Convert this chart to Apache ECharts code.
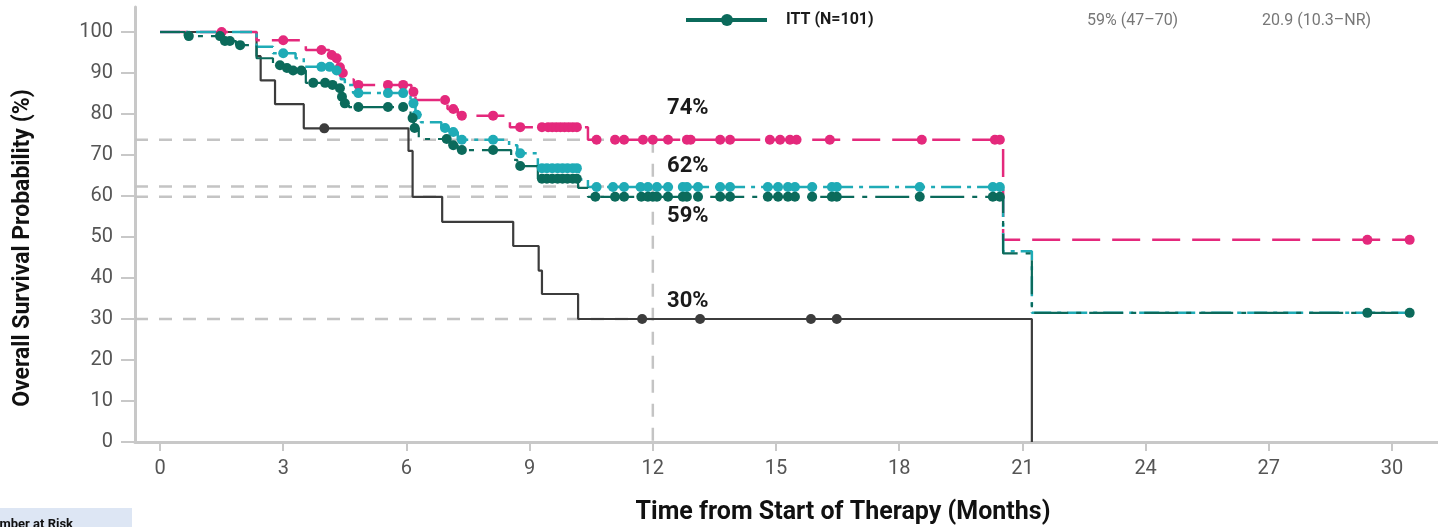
<!DOCTYPE html>
<html>
<head>
<meta charset="utf-8">
<script src="https://cdn.jsdelivr.net/npm/echarts@6/dist/echarts.min.js"></script>
<style>
  html, body { margin: 0; padding: 0; background: #fff; }
  #chart { width: 1438px; height: 527px; }
</style>
</head>
<body>
<div id="chart"></div>
<script>
// tick labels
const xTicks = [0, 3, 6, 9, 12, 15, 18, 21, 24, 27, 30];
const yTicks = [0, 10, 20, 30, 40, 50, 60, 70, 80, 90, 100];

// KM step points (time in months, survival %) and censor times
const grayTime = [0, 2.35, 2.45, 2.8, 3.5, 6.05, 6.15, 6.87, 8.6, 9.22, 9.3, 10.18, 21.23];
const graySurv = [100, 94.1, 88.2, 82.4, 76.5, 71.0, 59.8, 53.7, 47.8, 41.8, 36.1, 30.0, 0];
const grayCensor = [4.0, 11.74, 13.15, 15.85, 16.48];

const pinkTime = [0, 2.35, 3.55, 4.12, 4.25, 4.33, 4.4, 4.48, 4.72, 6.12, 6.22, 7.0, 7.25, 8.52, 10.42, 20.53, 30.43];
const pinkSurv = [100, 98.0, 95.6, 94.4, 93.6, 91.4, 90.0, 88.4, 87.1, 85.4, 83.4, 81.2, 79.6, 76.8, 73.7, 49.3, 49.3];
const pinkCensor = [1.5, 3.0, 3.93, 4.18, 4.3, 4.38, 4.45, 4.83, 5.55, 5.92, 6.17, 6.94, 7.14, 7.35, 8.11, 8.77,
  9.3, 9.45, 9.55, 9.65, 9.75, 9.85, 9.95, 10.05, 10.15, 10.63, 11.08, 11.3, 11.76, 12.0, 12.37, 12.83, 12.92,
  13.64, 13.88, 14.85, 15.1, 15.34, 15.5, 16.31, 18.55, 20.33, 20.45, 29.4, 30.43];

const cyanTime = [0, 2.35, 2.75, 3.3, 3.5, 4.25, 4.4, 4.5, 4.7, 6.1, 6.22, 6.35, 6.85, 7.05, 7.25, 8.5, 8.7, 9.2, 10.2, 10.42, 20.53, 21.23, 30.43];
const cyanSurv = [100, 96.4, 94.8, 93.6, 91.5, 90.6, 88.5, 87.1, 85.1, 82.6, 79.8, 78.0, 76.6, 75.6, 73.7, 72.4, 70.4, 66.8, 64.0, 62.2, 46.5, 31.5, 31.5];
const cyanCensor = [3.0, 3.93, 4.13, 4.3, 4.83, 5.55, 5.92, 6.17, 6.25, 6.94, 7.14, 7.35, 8.11, 8.77,
  9.3, 9.42, 9.55, 9.68, 9.8, 9.92, 10.05, 10.15, 10.63, 11.03, 11.3, 11.7, 11.88, 12.1, 12.37, 12.73, 12.83,
  13.1, 13.64, 13.88, 14.8, 15.05, 15.29, 15.46, 15.88, 16.36, 16.48, 18.5, 20.28, 20.45];

const ittTime = [0, 0.6, 1.52, 1.85, 2.35, 2.75, 3.0, 3.2, 3.55, 4.15, 4.3, 4.4, 4.45, 4.6, 6.1, 6.18, 6.3, 7.05, 7.25, 8.55, 8.7, 9.2, 10.18, 10.42, 20.53, 21.23, 30.43];
const ittSurv = [100, 99.0, 97.8, 96.8, 93.6, 91.9, 91.2, 90.6, 87.6, 87.1, 86.3, 84.2, 82.6, 81.7, 79.0, 76.6, 73.9, 72.4, 71.2, 68.8, 67.3, 64.2, 62.0, 59.8, 46.0, 31.5, 31.5];
const ittCensor = [0.7, 1.46, 1.58, 1.7, 1.95, 2.92, 3.09, 3.24, 3.44, 3.73, 4.02, 4.2, 4.38, 4.43, 4.5, 4.83,
  5.55, 5.92, 6.15, 6.2, 6.98, 7.14, 7.35, 8.11, 8.77, 9.3, 9.42, 9.55, 9.68, 9.8, 9.92, 10.05, 10.15,
  10.6, 11.08, 11.3, 11.72, 11.88, 12.0, 12.1, 12.37, 12.73, 12.83, 13.1, 13.64, 13.88, 14.8, 15.05, 15.29,
  15.46, 15.88, 16.36, 16.48, 18.5, 20.28, 20.45, 29.4, 30.43];

// 12-month landmark estimates
const landmarkTime = 12;
const landmarkValues = [73.7, 62.3, 59.8, 30.0];
const landmarkLabels = ['74%', '62%', '59%', '30%'];

const legendName = 'ITT (N=101)';
const tableTexts = ['59% (47\u201370)', '20.9 (10.3\u2013NR)'];

const X_MIN = -0.61, X_MAX = 31.12, Y_MAX = 106.1;
const FONT = 'Roboto';
const PINK = '#e4297c', CYAN = '#1fabb6', TEAL = '#0b6a5b', GRAY = '#3c3c3c', REF = '#c4c4c4';

function survAt(time, surv, t) {
  let v = surv[0];
  for (let i = 0; i < time.length; i++) if (time[i] <= t) v = surv[i];
  return v;
}

function stepLine(time, surv, color, width, dash, z) {
  return {
    type: 'line', step: 'end', symbol: 'none', silent: true, z: z,
    data: time.map((t, i) => [t, surv[i]]),
    lineStyle: { color: color, width: width, type: dash }
  };
}

function censorDots(time, surv, cens, color, size, z) {
  return {
    type: 'scatter', symbol: 'circle', symbolSize: size, silent: true, z: z,
    data: cens.map(t => [t, survAt(time, surv, t)]),
    itemStyle: { color: color, opacity: 1 }
  };
}

// label offsets relative to each landmark point (pixels)
const labelOffsets = [[35, -31], [35, -20], [35, 20], [35, -18]];

const refSeries = landmarkValues.map(v => ({
  type: 'line', symbol: 'none', silent: true, z: 1,
  data: [[X_MIN, v], [landmarkTime, v]],
  lineStyle: { color: REF, width: 2.5, type: [13, 11] }
}));
refSeries.push({
  type: 'line', symbol: 'none', silent: true, z: 1,
  data: [[landmarkTime, landmarkValues[0]], [landmarkTime, 0]],
  lineStyle: { color: REF, width: 2.5, type: [13, 11] }
});

const labelSeries = {
  type: 'scatter', symbolSize: 0, silent: true, z: 20,
  itemStyle: { opacity: 1 },
  data: landmarkValues.map((v, i) => ({
    value: [landmarkTime, v],
    label: {
      show: true, position: 'inside', offset: labelOffsets[i],
      formatter: landmarkLabels[i],
      fontFamily: FONT, fontWeight: 'bold', fontSize: 22, color: '#1a1a1a'
    }
  }))
};

const chart = echarts.init(document.getElementById('chart'), null, { renderer: 'canvas' });

chart.setOption({
  animation: false,
  backgroundColor: '#fff',
  grid: { left: 135, right: 0, top: 7, bottom: 85 },
  xAxis: {
    type: 'value', min: X_MIN, max: X_MAX,
    axisLine: { show: true, onZero: false, lineStyle: { color: '#c8c8c8', width: 3 } },
    axisTick: { show: true, length: 9, customValues: xTicks, lineStyle: { color: '#c8c8c8', width: 2 } },
    axisLabel: { customValues: xTicks, margin: 17, fontFamily: FONT, fontSize: 20, color: '#555' },
    splitLine: { show: false }
  },
  yAxis: {
    type: 'value', min: 0, max: Y_MAX,
    axisLine: { show: true, onZero: false, lineStyle: { color: '#c8c8c8', width: 3 } },
    axisTick: { show: true, length: 14, customValues: yTicks, lineStyle: { color: '#c8c8c8', width: 2 } },
    axisLabel: { customValues: yTicks, margin: 22, fontFamily: FONT, fontSize: 20, color: '#555' },
    splitLine: { show: false }
  },
  graphic: [
    {
      type: 'text', x: 23, y: 248, rotation: Math.PI / 2,
      style: { text: 'Overall Survival Probability (%)', fontFamily: FONT, fontWeight: 'bold', fontSize: 23,
        fill: '#111', align: 'center', verticalAlign: 'middle' }
    },
    {
      type: 'text', x: 843, y: 513,
      style: { text: 'Time from Start of Therapy (Months)', fontFamily: FONT, fontWeight: 'bold', fontSize: 25,
        fill: '#111', align: 'center', verticalAlign: 'middle' }
    },
    { type: 'line', shape: { x1: 686, y1: 20, x2: 767, y2: 20 }, style: { stroke: TEAL, lineWidth: 4 } },
    { type: 'circle', shape: { cx: 727, cy: 20, r: 6 }, style: { fill: TEAL } },
    {
      type: 'text', x: 786, y: 20,
      style: { text: legendName, fontFamily: FONT, fontWeight: 'bold', fontSize: 16, fill: '#1a1a1a', verticalAlign: 'middle' }
    },
    {
      type: 'text', x: 1087, y: 21,
      style: { text: tableTexts[0], fontFamily: FONT, fontSize: 16, fill: '#777', verticalAlign: 'middle' }
    },
    {
      type: 'text', x: 1262, y: 21,
      style: { text: tableTexts[1], fontFamily: FONT, fontSize: 16, fill: '#777', verticalAlign: 'middle' }
    },
    { type: 'rect', shape: { x: 0, y: 508, width: 132, height: 19 }, style: { fill: '#dde6f4' } },
    {
      type: 'text', x: -17, y: 518,
      style: { text: 'Number at Risk', fontFamily: FONT, fontWeight: 'bold', fontSize: 13, fill: '#111' }
    }
  ],
  series: [
    ...refSeries,
    stepLine(grayTime, graySurv, GRAY, 2.2, 'solid', 3),
    stepLine(pinkTime, pinkSurv, PINK, 2.5, [28, 12], 4),
    stepLine(cyanTime, cyanSurv, CYAN, 2.5, [20, 6, 4, 6], 5),
    stepLine(ittTime, ittSurv, TEAL, 2.2, [34, 8, 5, 8], 6),
    censorDots(grayTime, graySurv, grayCensor, GRAY, 10, 7),
    censorDots(pinkTime, pinkSurv, pinkCensor, PINK, 10, 8),
    censorDots(cyanTime, cyanSurv, cyanCensor, CYAN, 10, 9),
    censorDots(ittTime, ittSurv, ittCensor, TEAL, 10, 10),
    labelSeries
  ]
});
</script>
</body>
</html>
